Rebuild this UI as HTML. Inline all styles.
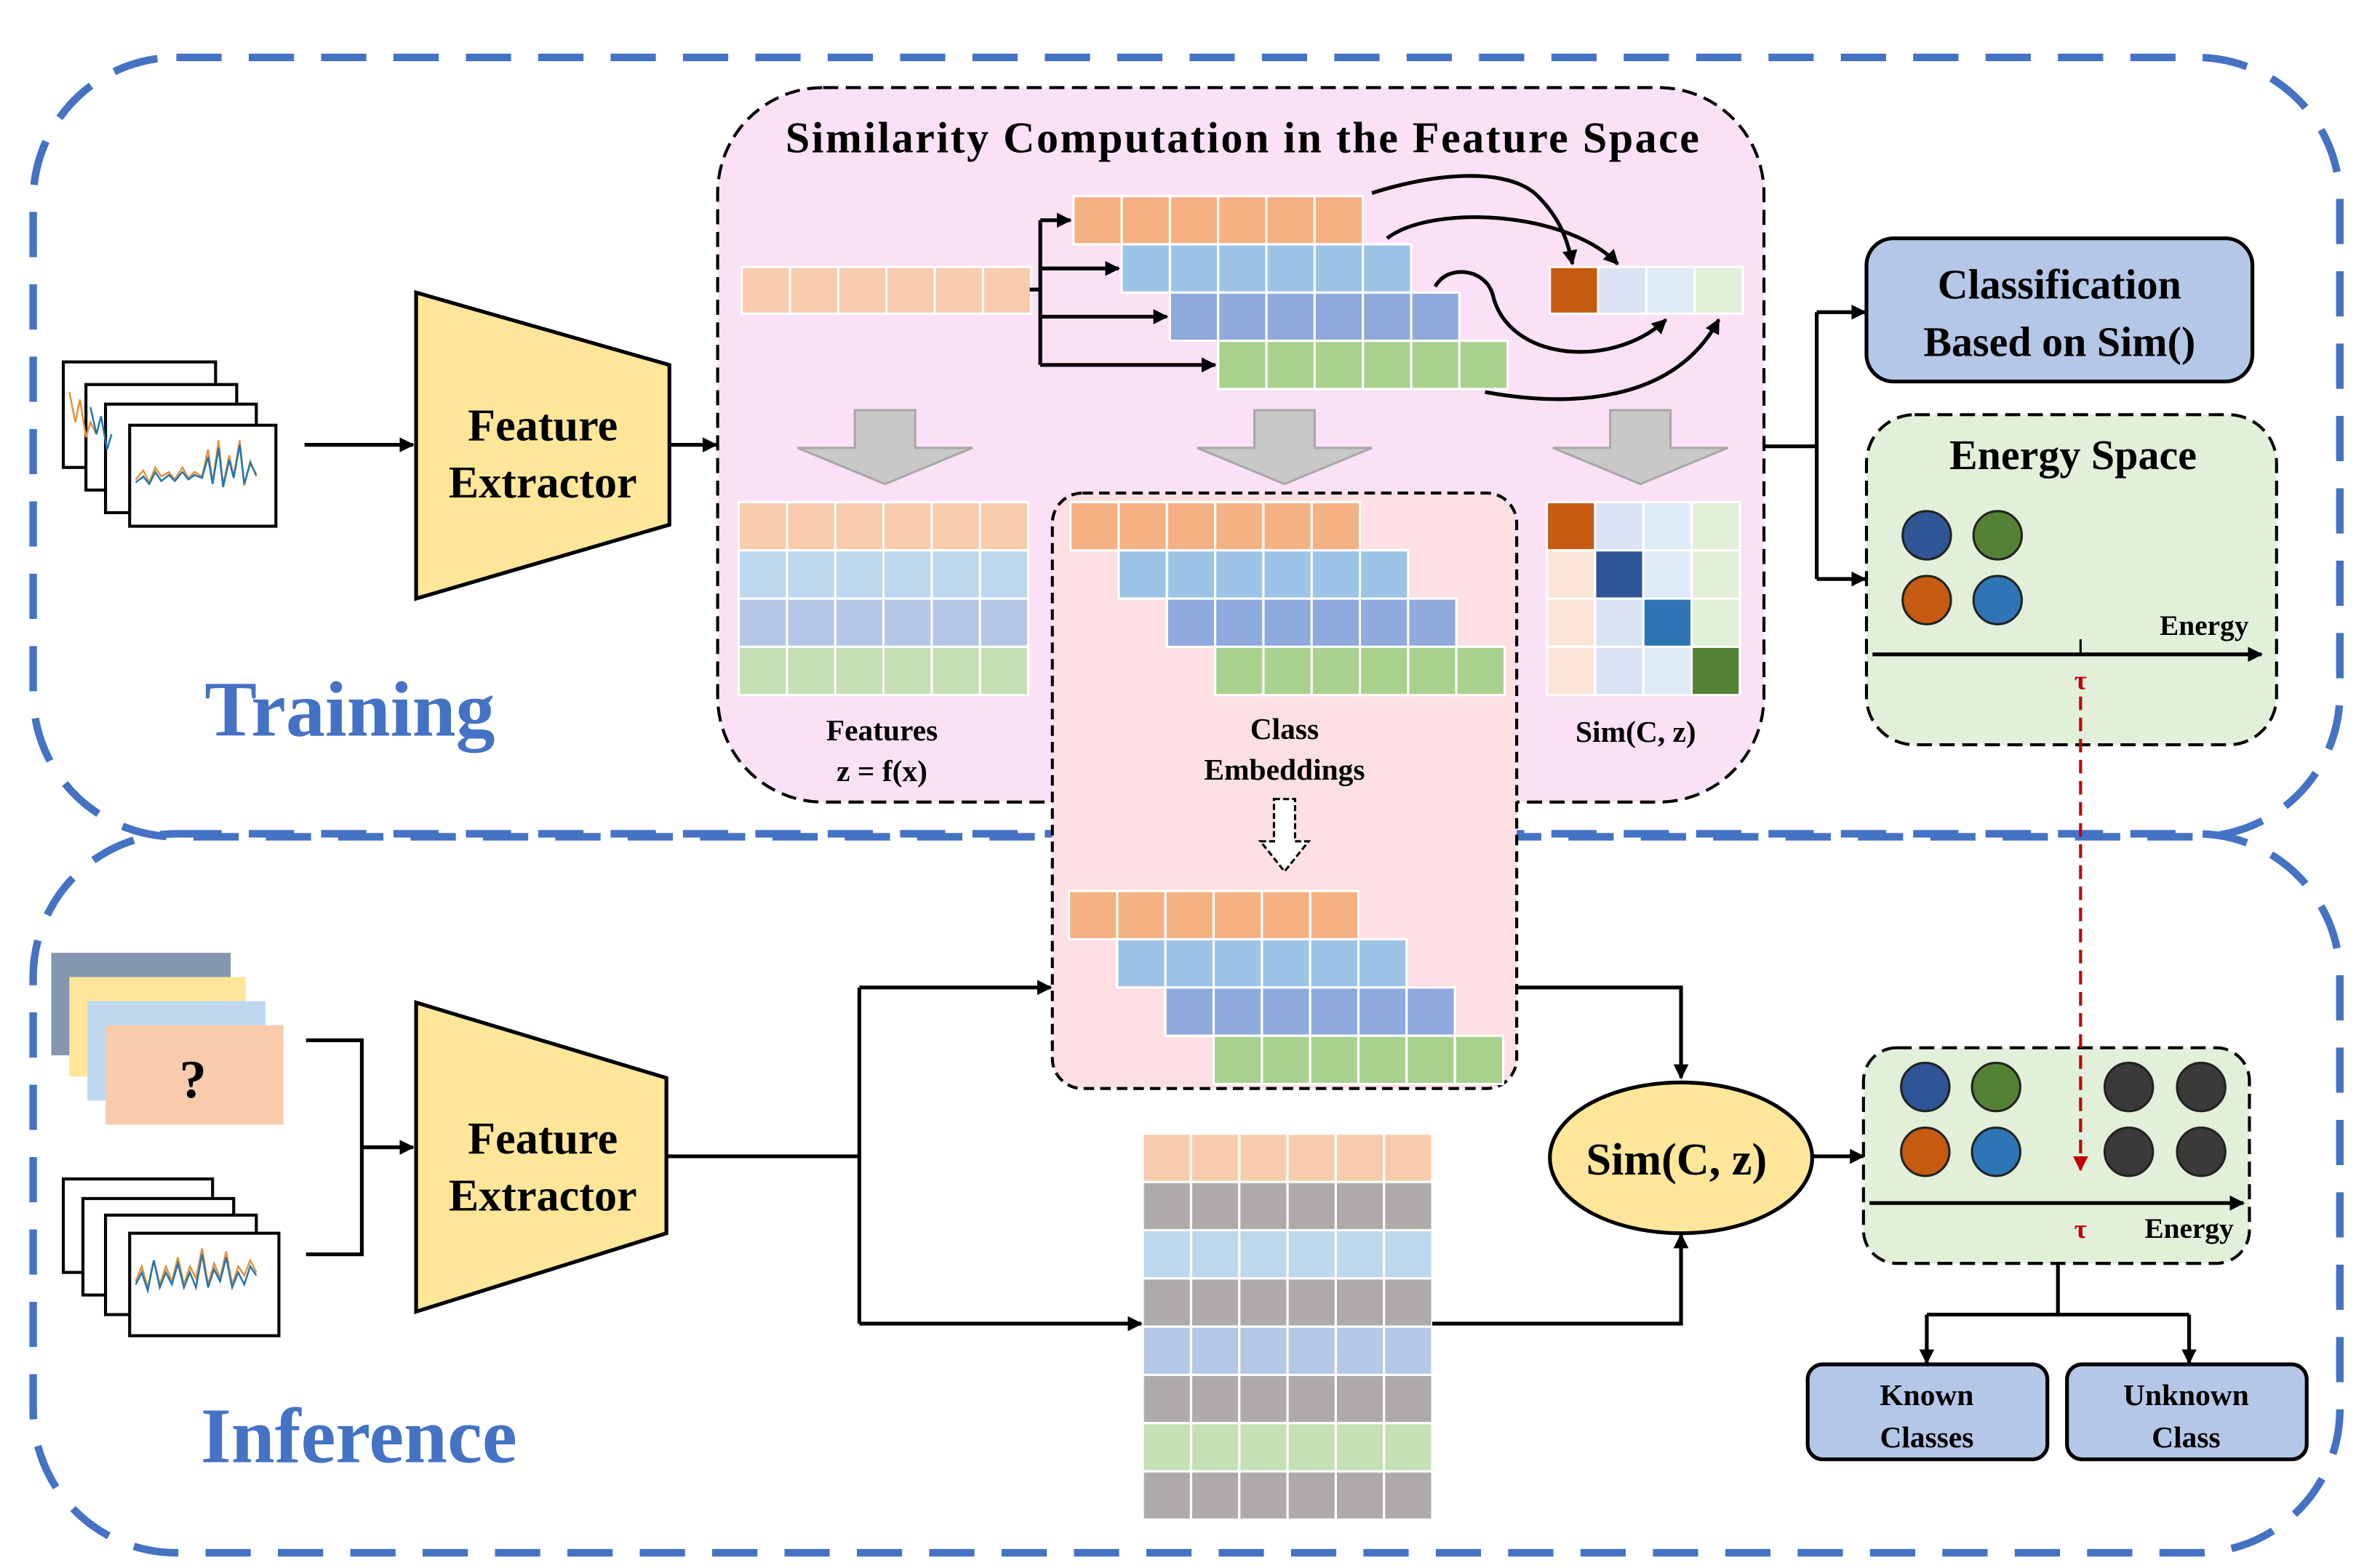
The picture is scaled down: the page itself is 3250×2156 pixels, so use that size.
<!DOCTYPE html>
<html><head><meta charset="utf-8"><style>
html,body{margin:0;padding:0;background:#fff}
svg{display:block}
text{font-family:"Liberation Serif",serif;font-weight:bold;fill:#000}
</style></head><body>
<svg width="3250" height="2156" viewBox="0 0 1568 1040" xmlns="http://www.w3.org/2000/svg">
<defs>
<marker id="ah" markerWidth="10" markerHeight="10" refX="9" refY="5" orient="auto" markerUnits="userSpaceOnUse"><path d="M0,0 L10,5 L0,10 z" fill="#000"/></marker>
<marker id="ahr" markerWidth="10" markerHeight="10" refX="9" refY="5" orient="auto" markerUnits="userSpaceOnUse"><path d="M0,0 L10,5 L0,10 z" fill="#c00000"/></marker>
</defs>
<rect x="22" y="38" width="1530" height="517" rx="95" fill="none" stroke="#4472C4" stroke-width="5" stroke-dasharray="30 18"/>
<rect x="22" y="553" width="1530" height="477" rx="95" fill="none" stroke="#4472C4" stroke-width="5" stroke-dasharray="30 18"/>
<text x="232" y="488" font-size="52" text-anchor="middle" style="fill:#4472C4">Training</text>
<text x="238" y="970" font-size="52" text-anchor="middle" style="fill:#4472C4">Inference</text>

<rect x="476" y="58" width="694" height="474" rx="70" fill="#FBE1F5" stroke="#000" stroke-width="2" stroke-dasharray="10 5"/>
<text x="824" y="101" font-size="29" text-anchor="middle" textLength="606" lengthAdjust="spacing">Similarity Computation in the Feature Space</text>

<rect x="698" y="327" width="308" height="395" rx="20" fill="#FCE0E4" stroke="#000" stroke-width="2" stroke-dasharray="7 4"/>

<g stroke="#fff" stroke-width="1.5">
<g fill="#F8CBAD"><rect x="492" y="177" width="32" height="31"/><rect x="524" y="177" width="32" height="31"/><rect x="556" y="177" width="32" height="31"/><rect x="588" y="177" width="32" height="31"/><rect x="620" y="177" width="32" height="31"/><rect x="652" y="177" width="32" height="31"/></g>
<g fill="#F4B183"><rect x="712" y="130" width="32" height="32"/><rect x="744" y="130" width="32" height="32"/><rect x="776" y="130" width="32" height="32"/><rect x="808" y="130" width="32" height="32"/><rect x="840" y="130" width="32" height="32"/><rect x="872" y="130" width="32" height="32"/></g>
<g fill="#9DC3E6"><rect x="744" y="162" width="32" height="32"/><rect x="776" y="162" width="32" height="32"/><rect x="808" y="162" width="32" height="32"/><rect x="840" y="162" width="32" height="32"/><rect x="872" y="162" width="32" height="32"/><rect x="904" y="162" width="32" height="32"/></g>
<g fill="#8FAADC"><rect x="776" y="194" width="32" height="32"/><rect x="808" y="194" width="32" height="32"/><rect x="840" y="194" width="32" height="32"/><rect x="872" y="194" width="32" height="32"/><rect x="904" y="194" width="32" height="32"/><rect x="936" y="194" width="32" height="32"/></g>
<g fill="#A9D18E"><rect x="808" y="226" width="32" height="32"/><rect x="840" y="226" width="32" height="32"/><rect x="872" y="226" width="32" height="32"/><rect x="904" y="226" width="32" height="32"/><rect x="936" y="226" width="32" height="32"/><rect x="968" y="226" width="32" height="32"/></g>
<rect x="1028" y="177" width="32" height="31" fill="#C55A11"/><rect x="1060" y="177" width="32" height="31" fill="#DAE3F3"/><rect x="1092" y="177" width="32" height="31" fill="#DEEBF7"/><rect x="1124" y="177" width="32" height="31" fill="#E2F0D9"/>

<g fill="#F8CBAD"><rect x="490" y="333" width="32" height="32"/><rect x="522" y="333" width="32" height="32"/><rect x="554" y="333" width="32" height="32"/><rect x="586" y="333" width="32" height="32"/><rect x="618" y="333" width="32" height="32"/><rect x="650" y="333" width="32" height="32"/></g>
<g fill="#BDD7EE"><rect x="490" y="365" width="32" height="32"/><rect x="522" y="365" width="32" height="32"/><rect x="554" y="365" width="32" height="32"/><rect x="586" y="365" width="32" height="32"/><rect x="618" y="365" width="32" height="32"/><rect x="650" y="365" width="32" height="32"/></g>
<g fill="#B4C7E7"><rect x="490" y="397" width="32" height="32"/><rect x="522" y="397" width="32" height="32"/><rect x="554" y="397" width="32" height="32"/><rect x="586" y="397" width="32" height="32"/><rect x="618" y="397" width="32" height="32"/><rect x="650" y="397" width="32" height="32"/></g>
<g fill="#C5E0B4"><rect x="490" y="429" width="32" height="32"/><rect x="522" y="429" width="32" height="32"/><rect x="554" y="429" width="32" height="32"/><rect x="586" y="429" width="32" height="32"/><rect x="618" y="429" width="32" height="32"/><rect x="650" y="429" width="32" height="32"/></g>

<g fill="#F4B183"><rect x="710" y="333" width="32" height="32"/><rect x="742" y="333" width="32" height="32"/><rect x="774" y="333" width="32" height="32"/><rect x="806" y="333" width="32" height="32"/><rect x="838" y="333" width="32" height="32"/><rect x="870" y="333" width="32" height="32"/></g>
<g fill="#9DC3E6"><rect x="742" y="365" width="32" height="32"/><rect x="774" y="365" width="32" height="32"/><rect x="806" y="365" width="32" height="32"/><rect x="838" y="365" width="32" height="32"/><rect x="870" y="365" width="32" height="32"/><rect x="902" y="365" width="32" height="32"/></g>
<g fill="#8FAADC"><rect x="774" y="397" width="32" height="32"/><rect x="806" y="397" width="32" height="32"/><rect x="838" y="397" width="32" height="32"/><rect x="870" y="397" width="32" height="32"/><rect x="902" y="397" width="32" height="32"/><rect x="934" y="397" width="32" height="32"/></g>
<g fill="#A9D18E"><rect x="806" y="429" width="32" height="32"/><rect x="838" y="429" width="32" height="32"/><rect x="870" y="429" width="32" height="32"/><rect x="902" y="429" width="32" height="32"/><rect x="934" y="429" width="32" height="32"/><rect x="966" y="429" width="32" height="32"/></g>

<g fill="#F4B183"><rect x="709" y="591" width="32" height="32"/><rect x="741" y="591" width="32" height="32"/><rect x="773" y="591" width="32" height="32"/><rect x="805" y="591" width="32" height="32"/><rect x="837" y="591" width="32" height="32"/><rect x="869" y="591" width="32" height="32"/></g>
<g fill="#9DC3E6"><rect x="741" y="623" width="32" height="32"/><rect x="773" y="623" width="32" height="32"/><rect x="805" y="623" width="32" height="32"/><rect x="837" y="623" width="32" height="32"/><rect x="869" y="623" width="32" height="32"/><rect x="901" y="623" width="32" height="32"/></g>
<g fill="#8FAADC"><rect x="773" y="655" width="32" height="32"/><rect x="805" y="655" width="32" height="32"/><rect x="837" y="655" width="32" height="32"/><rect x="869" y="655" width="32" height="32"/><rect x="901" y="655" width="32" height="32"/><rect x="933" y="655" width="32" height="32"/></g>
<g fill="#A9D18E"><rect x="805" y="687" width="32" height="32"/><rect x="837" y="687" width="32" height="32"/><rect x="869" y="687" width="32" height="32"/><rect x="901" y="687" width="32" height="32"/><rect x="933" y="687" width="32" height="32"/><rect x="965" y="687" width="32" height="32"/></g>

<rect x="1026" y="333" width="32" height="32" fill="#C55A11"/><rect x="1058" y="333" width="32" height="32" fill="#DAE3F3"/><rect x="1090" y="333" width="32" height="32" fill="#DEEBF7"/><rect x="1122" y="333" width="32" height="32" fill="#E2F0D9"/>
<rect x="1026" y="365" width="32" height="32" fill="#FBE5D6"/><rect x="1058" y="365" width="32" height="32" fill="#2F5597"/><rect x="1090" y="365" width="32" height="32" fill="#DEEBF7"/><rect x="1122" y="365" width="32" height="32" fill="#E2F0D9"/>
<rect x="1026" y="397" width="32" height="32" fill="#FBE5D6"/><rect x="1058" y="397" width="32" height="32" fill="#DAE3F3"/><rect x="1090" y="397" width="32" height="32" fill="#2E75B6"/><rect x="1122" y="397" width="32" height="32" fill="#E2F0D9"/>
<rect x="1026" y="429" width="32" height="32" fill="#FBE5D6"/><rect x="1058" y="429" width="32" height="32" fill="#DAE3F3"/><rect x="1090" y="429" width="32" height="32" fill="#DEEBF7"/><rect x="1122" y="429" width="32" height="32" fill="#548235"/>

<g fill="#F8CBAD"><rect x="758" y="752" width="32" height="32"/><rect x="790" y="752" width="32" height="32"/><rect x="822" y="752" width="32" height="32"/><rect x="854" y="752" width="32" height="32"/><rect x="886" y="752" width="32" height="32"/><rect x="918" y="752" width="32" height="32"/></g>
<g fill="#AEAAAA"><rect x="758" y="784" width="32" height="32"/><rect x="790" y="784" width="32" height="32"/><rect x="822" y="784" width="32" height="32"/><rect x="854" y="784" width="32" height="32"/><rect x="886" y="784" width="32" height="32"/><rect x="918" y="784" width="32" height="32"/></g>
<g fill="#BDD7EE"><rect x="758" y="816" width="32" height="32"/><rect x="790" y="816" width="32" height="32"/><rect x="822" y="816" width="32" height="32"/><rect x="854" y="816" width="32" height="32"/><rect x="886" y="816" width="32" height="32"/><rect x="918" y="816" width="32" height="32"/></g>
<g fill="#AEAAAA"><rect x="758" y="848" width="32" height="32"/><rect x="790" y="848" width="32" height="32"/><rect x="822" y="848" width="32" height="32"/><rect x="854" y="848" width="32" height="32"/><rect x="886" y="848" width="32" height="32"/><rect x="918" y="848" width="32" height="32"/></g>
<g fill="#B4C7E7"><rect x="758" y="880" width="32" height="32"/><rect x="790" y="880" width="32" height="32"/><rect x="822" y="880" width="32" height="32"/><rect x="854" y="880" width="32" height="32"/><rect x="886" y="880" width="32" height="32"/><rect x="918" y="880" width="32" height="32"/></g>
<g fill="#AEAAAA"><rect x="758" y="912" width="32" height="32"/><rect x="790" y="912" width="32" height="32"/><rect x="822" y="912" width="32" height="32"/><rect x="854" y="912" width="32" height="32"/><rect x="886" y="912" width="32" height="32"/><rect x="918" y="912" width="32" height="32"/></g>
<g fill="#C5E0B4"><rect x="758" y="944" width="32" height="32"/><rect x="790" y="944" width="32" height="32"/><rect x="822" y="944" width="32" height="32"/><rect x="854" y="944" width="32" height="32"/><rect x="886" y="944" width="32" height="32"/><rect x="918" y="944" width="32" height="32"/></g>
<g fill="#AEAAAA"><rect x="758" y="976" width="32" height="32"/><rect x="790" y="976" width="32" height="32"/><rect x="822" y="976" width="32" height="32"/><rect x="854" y="976" width="32" height="32"/><rect x="886" y="976" width="32" height="32"/><rect x="918" y="976" width="32" height="32"/></g>
</g>

<g stroke="#000" stroke-width="2.5" fill="none">
<path d="M683,192 H690 M690,146 V242"/>
<path d="M690,146 H710" marker-end="url(#ah)"/>
<path d="M690,178 H742" marker-end="url(#ah)"/>
<path d="M690,210 H774" marker-end="url(#ah)"/>
<path d="M690,242 H806" marker-end="url(#ah)"/>
<path d="M910,128 C950,115 1000,110 1020,130 C1035,145 1040,160 1043,175" marker-end="url(#ah)"/>
<path d="M920,158 C950,135 1040,140 1073,175" marker-end="url(#ah)"/>
<path d="M952,190 C960,175 985,178 990,195 C1000,240 1070,245 1105,212" marker-end="url(#ah)"/>
<path d="M985,260 C1040,270 1110,268 1140,212" marker-end="url(#ah)"/>
</g>

<g fill="#C8C8C8" stroke="#A8A8A8" stroke-width="1.5">
<path d="M567,272 H607 V297 H645 L587,321 L529,297 H567 Z"/>
<path d="M832,272 H872 V297 H910 L852,321 L794,297 H832 Z"/>
<path d="M1068,272 H1108 V297 H1146 L1088,321 L1030,297 H1068 Z"/>
</g>

<text x="585" y="491" font-size="20" text-anchor="middle">Features</text>
<text x="585" y="518" font-size="20" text-anchor="middle">z = f(x)</text>
<text x="852" y="490" font-size="20" text-anchor="middle">Class</text>
<text x="852" y="517" font-size="20" text-anchor="middle">Embeddings</text>
<text x="1085" y="492" font-size="20" text-anchor="middle">Sim(C, z)</text>

<path d="M845,530 H859 V558 H868 L852,578 L836,558 H845 Z" fill="#fff" stroke="#000" stroke-width="1.5" stroke-dasharray="4 2"/>

<g stroke="#000" stroke-width="2" fill="#fff">
<rect x="42" y="240" width="101" height="70"/>
<rect x="57" y="255" width="100" height="70"/>
<rect x="70" y="268" width="100" height="72"/>
<rect x="86" y="282" width="97" height="67"/>
</g>
<g fill="none" stroke-width="1.2">
<path d="M90,318 l5,-6 l4,8 l4,-10 l4,6 l5,-3 l4,5 l5,-8 l4,7 l4,-4 l5,3 l4,-18 l3,22 l4,-28 l3,30 l4,-20 l3,14 l4,-24 l3,30 l4,-16 l4,10" stroke="#E69138"/>
<path d="M90,320 l5,-4 l4,5 l4,-8 l4,6 l5,-4 l4,4 l5,-6 l4,5 l4,-3 l5,2 l4,-14 l3,18 l4,-24 l3,26 l4,-18 l3,12 l4,-22 l3,26 l4,-14 l4,8" stroke="#1F77B4"/>
<path d="M46,260 l4,20 l3,-15 l4,25 l3,-10 l4,8" stroke="#E69138"/>
<path d="M60,270 l4,18 l3,-12 l4,22 l3,-10" stroke="#1F77B4"/>
</g>
<path d="M202,295 H274" stroke="#000" stroke-width="2.5" marker-end="url(#ah)"/>
<polygon points="276,194 444,242 444,348 276,397" fill="#FFE699" stroke="#000" stroke-width="2.5"/>
<text x="360" y="292" font-size="30" text-anchor="middle">Feature</text>
<text x="360" y="330" font-size="30" text-anchor="middle">Extractor</text>
<path d="M444,295 H475" stroke="#000" stroke-width="2.5" marker-end="url(#ah)"/>

<g stroke="#000" stroke-width="2.5" fill="none">
<path d="M1170,296 H1205 M1205,207 V384"/>
<path d="M1205,207 H1237" marker-end="url(#ah)"/>
<path d="M1205,384 H1237" marker-end="url(#ah)"/>
</g>
<rect x="1238" y="158" width="256" height="95" rx="18" fill="#B4C7E7" stroke="#000" stroke-width="2.5"/>
<text x="1366" y="198" font-size="28" text-anchor="middle">Classification</text>
<text x="1366" y="236" font-size="28" text-anchor="middle">Based on Sim()</text>
<rect x="1238" y="275" width="272" height="219" rx="32" fill="#E2F0D9" stroke="#000" stroke-width="2" stroke-dasharray="10 5"/>
<text x="1375" y="311" font-size="28" text-anchor="middle">Energy Space</text>
<g stroke="#222" stroke-width="1.5">
<circle cx="1278" cy="355" r="16" fill="#2F5597"/><circle cx="1325" cy="355" r="16" fill="#548235"/>
<circle cx="1278" cy="398" r="16" fill="#C55A11"/><circle cx="1325" cy="398" r="16" fill="#2E75B6"/>
</g>
<path d="M1242,434 H1500" stroke="#000" stroke-width="2.5" marker-end="url(#ah)"/>
<path d="M1380,424 V434" stroke="#000" stroke-width="1.5"/>
<text x="1462" y="421" font-size="19" text-anchor="middle">Energy</text>
<text x="1380" y="457" font-size="18" text-anchor="middle" style="fill:#c00000">τ</text>

<rect x="34" y="632" width="119" height="68" fill="#8497B0"/>
<rect x="46" y="648" width="117" height="66" fill="#FFE699"/>
<rect x="58" y="664" width="118" height="66" fill="#BDD7EE"/>
<rect x="70" y="680" width="118" height="66" fill="#F8CBAD"/>
<text x="128" y="728" font-size="36" text-anchor="middle">?</text>
<g stroke="#000" stroke-width="2" fill="#fff">
<rect x="42" y="782" width="99" height="62"/>
<rect x="55" y="795" width="100" height="64"/>
<rect x="70" y="806" width="100" height="66"/>
<rect x="86" y="818" width="99" height="68"/>
</g>
<g fill="none" stroke-width="1.2">
<path d="M90,850 l4,-10 l4,14 l4,-18 l4,16 l4,-12 l4,10 l4,-16 l4,18 l4,-12 l4,8 l4,-20 l4,24 l4,-14 l4,10 l4,-18 l4,22 l4,-12 l4,6 l4,-10 l4,8" stroke="#E69138"/>
<path d="M90,852 l4,-8 l4,12 l4,-20 l4,18 l4,-10 l4,8 l4,-14 l4,16 l4,-10 l4,10 l4,-22 l4,22 l4,-12 l4,8 l4,-16 l4,20 l4,-10 l4,8 l4,-12 l4,6" stroke="#1F77B4"/>
</g>
<g stroke="#000" stroke-width="2.5" fill="none">
<path d="M203,690 H240 V832 H203"/>
<path d="M240,761 H274" marker-end="url(#ah)"/>
</g>
<polygon points="276,665 442,715 442,818 276,870" fill="#FFE699" stroke="#000" stroke-width="2.5"/>
<text x="360" y="765" font-size="30" text-anchor="middle">Feature</text>
<text x="360" y="803" font-size="30" text-anchor="middle">Extractor</text>
<g stroke="#000" stroke-width="2.5" fill="none">
<path d="M442,767 H570 M570,655 V878"/>
<path d="M570,655 H697" marker-end="url(#ah)"/>
<path d="M570,878 H757" marker-end="url(#ah)"/>
<path d="M1006,655 H1115 V715" marker-end="url(#ah)"/>
<path d="M950,878 H1115 V819" marker-end="url(#ah)"/>
<path d="M1202,767 H1236" marker-end="url(#ah)"/>
</g>
<ellipse cx="1115" cy="768" rx="87" ry="50" fill="#FFE699" stroke="#000" stroke-width="2.5"/>
<text x="1112" y="779" font-size="30" text-anchor="middle">Sim(C, z)</text>

<rect x="1236" y="695" width="256" height="143" rx="22" fill="#E2F0D9" stroke="#000" stroke-width="2" stroke-dasharray="10 5"/>
<g stroke="#222" stroke-width="1.5">
<circle cx="1277" cy="721" r="16" fill="#2F5597"/><circle cx="1324" cy="721" r="16" fill="#548235"/>
<circle cx="1277" cy="764" r="16" fill="#C55A11"/><circle cx="1324" cy="764" r="16" fill="#2E75B6"/>
<circle cx="1412" cy="721" r="16" fill="#3A3A3A"/><circle cx="1460" cy="721" r="16" fill="#3A3A3A"/>
<circle cx="1412" cy="764" r="16" fill="#3A3A3A"/><circle cx="1460" cy="764" r="16" fill="#3A3A3A"/>
</g>
<path d="M1240,798 H1488" stroke="#000" stroke-width="2.5" marker-end="url(#ah)"/>
<text x="1380" y="821" font-size="18" text-anchor="middle" style="fill:#c00000">τ</text>
<text x="1452" y="821" font-size="19" text-anchor="middle">Energy</text>
<path d="M1380,462 V776" stroke="#c00000" stroke-width="2" stroke-dasharray="9 5" fill="none" marker-end="url(#ahr)"/>
<g stroke="#000" stroke-width="2.5" fill="none">
<path d="M1365,838 V872 M1278,872 H1452"/>
<path d="M1278,872 V904" marker-end="url(#ah)"/>
<path d="M1452,872 V904" marker-end="url(#ah)"/>
</g>
<rect x="1199" y="905" width="159" height="63" rx="10" fill="#B4C7E7" stroke="#000" stroke-width="2.5"/>
<rect x="1371" y="905" width="159" height="63" rx="10" fill="#B4C7E7" stroke="#000" stroke-width="2.5"/>
<text x="1278" y="932" font-size="20" text-anchor="middle">Known</text>
<text x="1278" y="960" font-size="20" text-anchor="middle">Classes</text>
<text x="1450" y="932" font-size="20" text-anchor="middle">Unknown</text>
<text x="1450" y="960" font-size="20" text-anchor="middle">Class</text>
</svg>
</body></html>
